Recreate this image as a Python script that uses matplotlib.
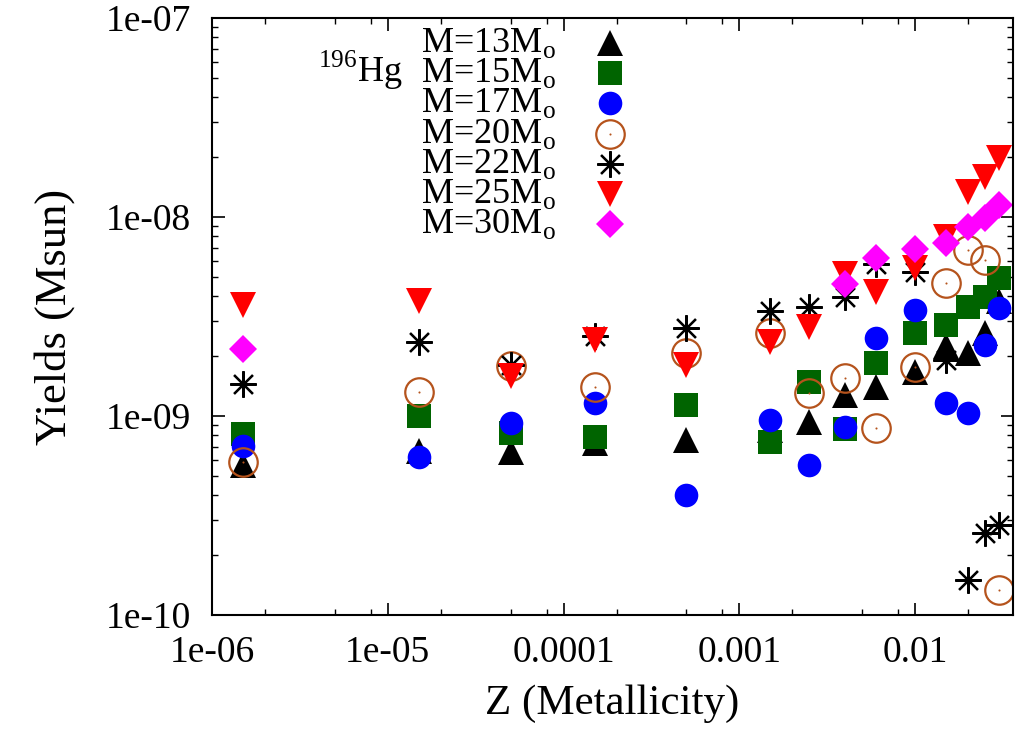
import matplotlib
matplotlib.use('Agg')
import matplotlib.pyplot as plt
from matplotlib.ticker import FixedLocator, FixedFormatter, LogLocator, NullFormatter

plt.rcParams['font.family'] = ['Liberation Serif', 'DejaVu Serif']
plt.rcParams['mathtext.fontset'] = 'custom'
plt.rcParams['mathtext.rm'] = 'Liberation Serif'

# metallicities
Z = [1.5e-6, 1.5e-5, 5e-5, 1.5e-4, 5e-4, 1.5e-3, 2.5e-3, 4e-3, 6e-3, 0.01, 0.015, 0.02, 0.025, 0.03]
Z30 = [1.5e-6, 4e-3, 6e-3, 0.01, 0.015, 0.02, 0.025, 0.03]

# 196Hg yields (Msun) per progenitor mass
m13 = [5.7e-10, 6.7e-10, 6.6e-10, 7.3e-10, 7.6e-10, 8.5e-10, 9.3e-10, 1.28e-9, 1.4e-9, 1.67e-9, 2.25e-9, 2.07e-9, 2.6e-9, 3.8e-9]
m15 = [8.1e-10, 1.0e-9, 8.2e-10, 7.85e-10, 1.13e-9, 7.4e-10, 1.48e-9, 8.6e-10, 1.85e-9, 2.6e-9, 2.86e-9, 3.53e-9, 3.96e-9, 4.93e-9]
m17 = [7.1e-10, 6.2e-10, 9.2e-10, 1.16e-9, 4.0e-10, 9.5e-10, 5.7e-10, 8.8e-10, 2.47e-9, 3.4e-9, 1.16e-9, 1.03e-9, 2.28e-9, 3.5e-9]
m20 = [5.9e-10, 1.32e-9, 1.78e-9, 1.4e-9, 2.07e-9, 2.61e-9, 1.3e-9, 1.55e-9, 8.7e-10, 1.76e-9, 4.65e-9, 6.8e-9, 6.1e-9, 1.34e-10]
m22 = [1.45e-9, 2.36e-9, 1.8e-9, 2.52e-9, 2.77e-9, 3.37e-9, 3.53e-9, 3.96e-9, 5.8e-9, 5.3e-9, 1.91e-9, 1.5e-10, 2.58e-10, 2.83e-10]
m25 = [3.6e-9, 3.8e-9, 1.58e-9, 2.41e-9, 1.8e-9, 2.35e-9, 2.8e-9, 5.2e-9, 4.2e-9, 5.55e-9, 7.9e-9, 1.34e-8, 1.59e-8, 1.98e-8]
m30 = [2.17e-9, 4.6e-9, 6.2e-9, 6.9e-9, 7.4e-9, 8.9e-9, 9.9e-9, 1.15e-8]

labels = ['M=13M$_{\\rm o}$', 'M=15M$_{\\rm o}$', 'M=17M$_{\\rm o}$', 'M=20M$_{\\rm o}$',
          'M=22M$_{\\rm o}$', 'M=25M$_{\\rm o}$', 'M=30M$_{\\rm o}$']

xticks = [1e-6, 1e-5, 1e-4, 1e-3, 1e-2]
xticklabels = ['1e-06', '1e-05', '0.0001', '0.001', '0.01']
yticks = [1e-10, 1e-9, 1e-8, 1e-7]
yticklabels = ['1e-10', '1e-09', '1e-08', '1e-07']

fig = plt.figure(figsize=(10.16, 7.31), dpi=100)
ax = fig.add_axes([0.2087, 0.1587, 0.7883, 0.8167])

# marker styles per series: marker, size, face, edge, edge width
styles = [
    dict(marker='^', ms=19, color='black', mew=0),
    dict(marker='s', ms=17.5, color='#006400', mew=0),
    dict(marker='o', ms=17, color='#0000ff', mew=0),
    dict(marker='o', ms=20.5, mfc='none', mec='#b5531c', mew=1.6),
    dict(marker=(8, 2, 0), ms=19, color='black', mew=1.6),
    dict(marker='v', ms=19, color='#ff0000', mew=0),
    dict(marker='D', ms=14, color='#ff00ff', mew=0),
]

xs = [Z, Z, Z, Z, Z, Z, Z30]
ys = [m13, m15, m17, m20, m22, m25, m30]
for i in range(len(ys)):
    ax.plot(xs[i], ys[i], ls='none', **styles[i])
    if i == 3:
        ax.plot(xs[i], ys[i], ls='none', marker='o', ms=1.5, color='#b5531c', mew=0)

ax.set_xscale('log')
ax.set_yscale('log')
ax.set_xlim(1e-6, 0.036)
ax.set_ylim(1e-10, 1e-7)

ax.xaxis.set_major_locator(FixedLocator(xticks))
ax.xaxis.set_major_formatter(FixedFormatter(xticklabels))
ax.xaxis.set_minor_locator(LogLocator(base=10, subs=(2, 5, 8)))
ax.xaxis.set_minor_formatter(NullFormatter())
ax.yaxis.set_major_locator(FixedLocator(yticks))
ax.yaxis.set_major_formatter(FixedFormatter(yticklabels))
ax.yaxis.set_minor_locator(LogLocator(base=10, subs=range(2, 10)))
ax.yaxis.set_minor_formatter(NullFormatter())

ax.tick_params(which='both', direction='in', top=True, right=True, labelsize=27)
ax.tick_params(which='major', length=9, width=1.2)
ax.tick_params(axis='x', which='major', pad=15)
ax.tick_params(axis='y', which='major', pad=15)
ax.tick_params(which='minor', length=4.5, width=1.0)
for s in ax.spines.values():
    s.set_linewidth(1.5)

ax.set_xlabel('Z (Metallicity)', fontsize=31, labelpad=10)
ax.set_ylabel('Yields (Msun)', fontsize=32, labelpad=22)

# key: text right aligned, marker to its right (gnuplot style)
for i in range(len(labels)):
    yk = 0.958 - 0.0505 * i
    ax.text(0.4295, yk, labels[i], transform=ax.transAxes, fontsize=26,
            ha='right', va='center')
    ax.plot([0.497], [yk], transform=ax.transAxes, ls='none', clip_on=False, **styles[i])
    if i == 3:
        ax.plot([0.497], [yk], transform=ax.transAxes, ls='none', marker='o', ms=1.5,
                color='#b5531c', mew=0)

ax.text(0.132, 0.913, '$^{196}$Hg', transform=ax.transAxes, fontsize=26, ha='left', va='center')

fig.savefig('out.png', dpi=100)
